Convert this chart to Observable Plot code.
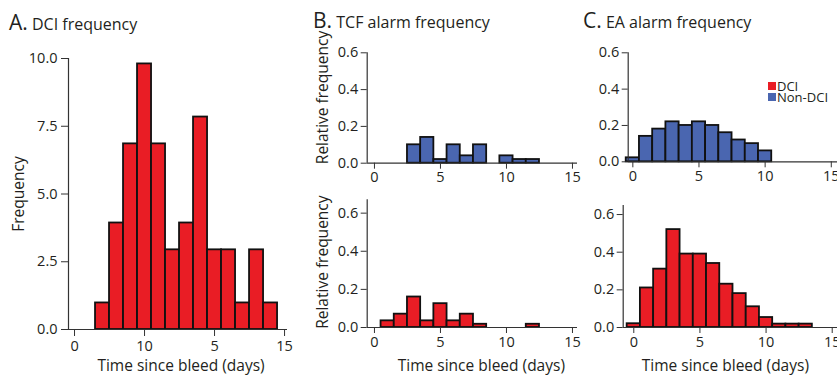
<!DOCTYPE html>
<html><head><meta charset="utf-8">
<script src="https://cdn.jsdelivr.net/npm/d3@7"></script>
<script src="https://cdn.jsdelivr.net/npm/@observablehq/plot@0.6"></script>
<style>
body{margin:0;background:#fff;font-family:"Open Sans",sans-serif;color:#231f20}
#root{position:relative;width:837px;height:375px;overflow:hidden;background:#fff}
.panel{position:absolute}
.title{position:absolute;white-space:nowrap;line-height:1;color:#231f20}
.title .big{font-size:21px}
.title .small{font-size:16px}
.legend{position:absolute;left:768px;top:81px;font-size:13px;color:#231f20}
.legend div{display:flex;align-items:center;height:10.5px;white-space:nowrap}
.legend span.sw{display:inline-block;width:8px;height:8px;margin-right:1px}
.legend span.lb{display:inline-block;height:10px;line-height:10px;overflow:visible}
</style></head><body><div id="root"></div>
<script>
// ---- data ----
const dciDays   = [2,3,4,5,6,7,8,9,10,11,12,13,14];
const dciCounts = [0.98,3.93,6.85,9.8,6.85,2.94,3.93,7.84,2.94,2.94,0.98,2.94,0.98];

const tcfNonDays = [2,3,4,5,6,7,8,9,10,11,12];
const tcfNonFreq = [0,0.10,0.14,0.02,0.10,0.04,0.10,0,0.04,0.02,0.02];

const tcfDciDays = [1,2,3,4,5,6,7,8,9,10,11,12];
const tcfDciFreq = [0.035,0.07,0.16,0.035,0.125,0.035,0.07,0.017,0,0,0,0.017];

const eaNonDays = [0,1,2,3,4,5,6,7,8,9,10,11];
const eaNonFreq = [0.022,0.14,0.18,0.22,0.20,0.22,0.20,0.16,0.12,0.10,0.06,0];

const eaDciDays = [0,1,2,3,4,5,6,7,8,9,10,11,12,13,14];
const eaDciFreq = [0.02,0.21,0.31,0.52,0.39,0.39,0.34,0.23,0.18,0.11,0.053,0.018,0.018,0.018,0];

const xTicks = [0,5,10,15];
const xTickLabelsA = ["0","10","5","15"];
const xTickLabels = ["0","5","10","15"];
const yTicksA = [0,2.5,5,7.5,10];
const yTicksRel = [0,0.2,0.4,0.6];

const seriesNames = ["DCI","Non-DCI"];
const colors = {"DCI":"#e91d25","Non-DCI":"#4a66b0"};
const xTitle = "Time since bleed (days)";

const root = document.getElementById("root");

function panel(o){
  const table = o.days.map((d,i)=>({x1:d-0.5, x2:d+0.5, y:o.vals[i]}));
  const fmtX = d => o.xLabels[xTicks.indexOf(d)];
  const marks = [
    Plot.rectY(table,{x1:"x1",x2:"x2",y1:0,y2:"y",fill:o.fill,stroke:"#111",strokeWidth:1.8}),
    Plot.ruleY([0],{stroke:"#333",strokeWidth:1.2}),
    Plot.ruleX([o.xDomain[0]],{y1:0,y2:o.yDomain[1],stroke:"#333",strokeWidth:1.2}),
    Plot.axisX(xTicks,{tickFormat:fmtX,tickSize:o.tick,tickPadding:o.pad,fontSize:o.tickFont,label:null,stroke:"#333"}),
    Plot.axisY(o.yTicks,{tickFormat:d=>d.toFixed(1),tickSize:o.tick,tickPadding:o.pad,fontSize:o.tickFont,label:null,stroke:"#333"})
  ];
  if(o.xTitle) marks.push(Plot.text([o.xTitle],{text:d=>d,frameAnchor:"bottom",textAnchor:"middle",lineAnchor:"middle",dx:o.xtDx,dy:o.xtDy,fontSize:15.5,fill:"#231f20"}));
  if(o.yTitle) marks.push(Plot.text([o.yTitle],{text:d=>d,frameAnchor:"left",textAnchor:"middle",lineAnchor:"middle",rotate:-90,dx:o.ytDx,dy:o.ytDy,fontSize:15.5,fill:"#231f20"}));
  const svg = Plot.plot({
    width:o.width,height:o.height,
    marginLeft:o.ml,marginRight:o.mr,marginTop:o.mt,marginBottom:o.mb,
    x:{domain:o.xDomain},
    y:{domain:o.yDomain},
    style:{fontFamily:"Open Sans",fontSize:"14px",color:"#231f20",background:"transparent",overflow:"visible"},
    marks
  });
  svg.classList.add("panel");
  svg.style.left = o.left+"px";
  svg.style.top = o.top+"px";
  root.appendChild(svg);
}

// Panel A
panel({left:0,top:0,width:300,height:375,ml:68,mr:13,mt:58,mb:46,
  xDomain:[-0.43,15.21],yDomain:[0,10],yTicks:yTicksA,xLabels:xTickLabelsA,
  days:dciDays,vals:dciCounts,fill:colors["DCI"],tick:7,pad:4,tickFont:14.5,
  xTitle:xTitle,xtDx:3,xtDy:37,yTitle:"Frequency",ytDx:-49,ytDy:0});
// Panel B top
panel({left:300,top:0,width:280,height:190,ml:66.7,mr:3,mt:52.3,mb:27.3,
  xDomain:[-0.55,15.38],yDomain:[0,0.6],yTicks:yTicksRel,xLabels:xTickLabels,
  days:tcfNonDays,vals:tcfNonFreq,fill:colors["Non-DCI"],tick:6,pad:3,tickFont:14.5,
  yTitle:"Relative frequency",ytDx:-44,ytDy:-10.5});
// Panel B bottom
panel({left:300,top:190,width:280,height:185,ml:66.7,mr:3,mt:9.3,mb:48,
  xDomain:[-0.55,15.38],yDomain:[0,0.67],yTicks:yTicksRel,xLabels:xTickLabels,
  days:tcfDciDays,vals:tcfDciFreq,fill:colors["DCI"],tick:6,pad:3,tickFont:14.5,
  xTitle:xTitle,xtDx:9,xtDy:39,yTitle:"Relative frequency",ytDx:-44,ytDy:-1.5});
// Panel C top
panel({left:580,top:0,width:257,height:190,ml:47.7,mr:0,mt:52.3,mb:28.7,
  xDomain:[-0.35,15.47],yDomain:[0,0.6],yTicks:yTicksRel,xLabels:xTickLabels,
  days:eaNonDays,vals:eaNonFreq,fill:colors["Non-DCI"],tick:6,pad:3,tickFont:14.5});
// Panel C bottom
panel({left:580,top:190,width:257,height:185,ml:42.7,mr:0,mt:15,mb:48,
  xDomain:[-0.8,15.4],yDomain:[0,0.648],yTicks:yTicksRel,xLabels:xTickLabels,
  days:eaDciDays,vals:eaDciFreq,fill:colors["DCI"],tick:6,pad:3,tickFont:14.5,
  xTitle:xTitle,xtDx:-5,xtDy:39});

// Titles
const titles = [["A.","DCI frequency",9,12],["B.","TCF alarm frequency",313,10],["C.","EA alarm frequency",583,10]];
for(const [l,t,x,y] of titles){
  const d=document.createElement("div");d.className="title";
  d.style.left=x+"px";d.style.top=y+"px";
  d.innerHTML=`<span class="big">${l}</span> <span class="small">${t}</span>`;
  root.appendChild(d);
}
// Legend
const lg=document.createElement("div");lg.className="legend";
for(const s of seriesNames){
  const r=document.createElement("div");
  r.innerHTML=`<span class="sw" style="background:${colors[s]}"></span><span class="lb">${s}</span>`;
  lg.appendChild(r);
}
root.appendChild(lg);
</script></body></html>
